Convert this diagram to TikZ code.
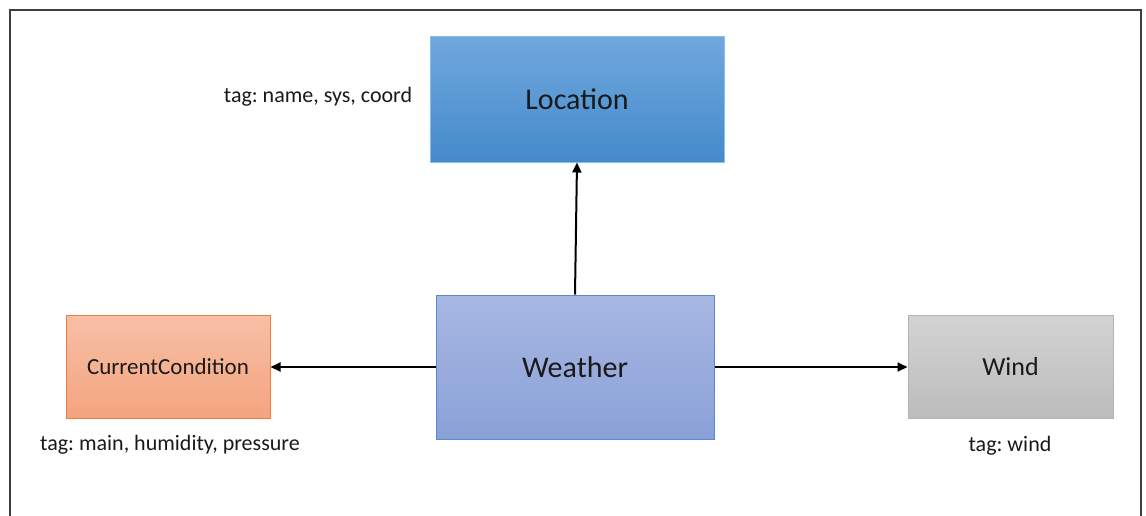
\documentclass[tikz,border=0pt]{standalone}
\usepackage{fontspec}
\setmainfont{Carlito}
\usetikzlibrary{arrows.meta}
\frenchspacing
\definecolor{frameC}{HTML}{3F3F3F}
\definecolor{locTop}{HTML}{70A8DE}
\definecolor{locBot}{HTML}{448ACB}
\definecolor{locDraw}{HTML}{8CBDEB}
\definecolor{wTop}{HTML}{A8B7E2}
\definecolor{wBot}{HTML}{8AA1D7}
\definecolor{wDraw}{HTML}{5B88D6}
\definecolor{ccTop}{HTML}{F7BFA6}
\definecolor{ccBot}{HTML}{F4A47F}
\definecolor{ccDraw}{HTML}{EE7E3B}
\definecolor{wiTop}{HTML}{D3D3D3}
\definecolor{wiBot}{HTML}{BCBCBC}
\definecolor{wiDraw}{HTML}{B4B4B4}
\definecolor{txtC}{HTML}{1A1A1A}
\tikzset{
  box/.style={draw, line width=1pt, inner sep=0pt, text=txtC},
  tagtext/.style={font=\fontsize{22}{26}\selectfont\frenchspacing, text=txtC, inner sep=0pt},
  conn/.style={line width=2pt, -{Triangle[length=10pt,width=9pt]}}
}
\begin{document}
\begin{tikzpicture}[x=1pt,y=-1pt]
\useasboundingbox (0,0) rectangle (1146,515);
\fill[white] (0,0) rectangle (1146,515);
\draw[frameC, line width=1.5pt] (10,530) -- (10,10) -- (1141,10) -- (1141,530);
\node[box, draw=locDraw, top color=locTop, bottom color=locBot,
      minimum width=294pt, minimum height=126pt,
      font=\fontsize{30}{36}\selectfont] (loc) at (577,99) {Location};
\node[box, draw=wDraw, top color=wTop, bottom color=wBot,
      minimum width=278pt, minimum height=144pt,
      font=\fontsize{30}{36}\selectfont] (wea) at (575,367) {Weather};
\node[box, draw=ccDraw, top color=ccTop, bottom color=ccBot,
      minimum width=204pt, minimum height=103pt,
      font=\fontsize{23}{28}\selectfont] (cc) at (168,367) {CurrentCondition};
\node[box, draw=wiDraw, top color=wiTop, bottom color=wiBot,
      minimum width=205pt, minimum height=103pt,
      font=\fontsize{26}{31}\selectfont] (wind) at (1010.5,367) {Wind};
\node[tagtext] (t1) at (318,97) {tag: name, sys, coord};
\node[tagtext] (t2) at (170,445) {tag: main, humidity, pressure};
\node[tagtext] (t3) at (1010,446) {tag: wind};
\draw[conn] (wea.north) -- (loc.south);
\draw[conn] (wea.west) -- (cc.east);
\draw[conn] (wea.east) -- (wind.west);
\end{tikzpicture}
\end{document}
